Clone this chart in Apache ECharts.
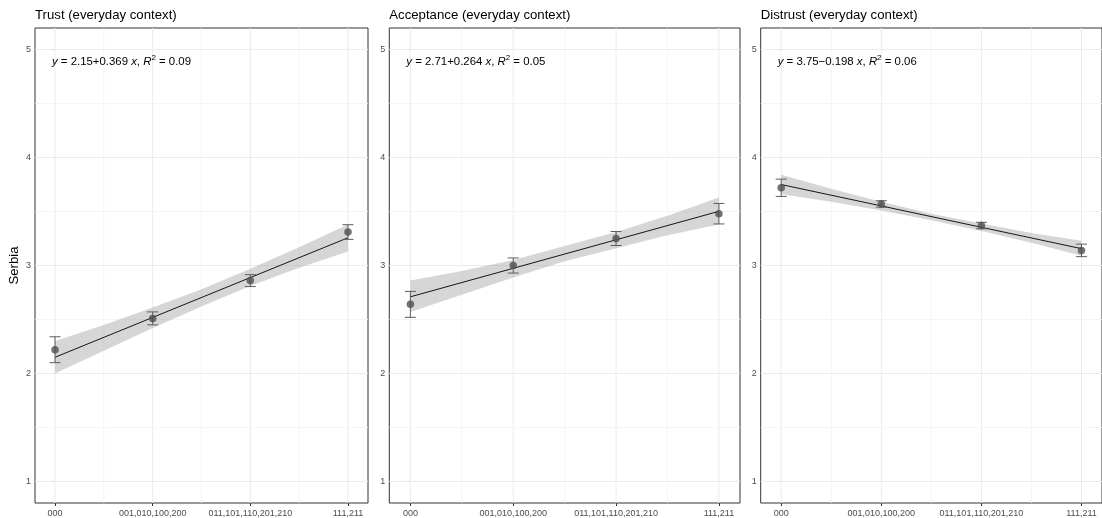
<!DOCTYPE html>
<html>
<head>
<meta charset="utf-8">
<script src="https://cdn.jsdelivr.net/npm/echarts@6/dist/echarts.min.js"></script>
<style>
  html, body { margin: 0; padding: 0; background: #ffffff; }
  #chart { width: 1102px; height: 518px; }
</style>
</head>
<body>
<div id="chart"></div>
<script>
// ---- data ----
const groupLabels = ['000', '001,010,100,200', '011,101,110,201,210', '111,211'];
const groupPos = [0, 1, 2, 3];
const panelTitles = ['Trust (everyday context)', 'Acceptance (everyday context)', 'Distrust (everyday context)'];
const yTicks = [1, 2, 3, 4, 5];
const yMinor = [1.5, 2.5, 3.5, 4.5];
const xMinor = [0.5, 1.5, 2.5];

// group means with standard errors
const trustMean = [2.22, 2.51, 2.86, 3.31];
const trustSE = [0.12, 0.06, 0.055, 0.068];
const acceptMean = [2.64, 3.00, 3.25, 3.48];
const acceptSE = [0.12, 0.07, 0.065, 0.095];
const distrustMean = [3.72, 3.57, 3.37, 3.14];
const distrustSE = [0.08, 0.03, 0.03, 0.058];

// linear fit per panel
const intercepts = [2.15, 2.71, 3.75];
const slopes = [0.369, 0.264, -0.198];
const rSquared = [0.09, 0.05, 0.06];

// confidence band of each fit
const bandX = [0, 0.5, 1, 1.5, 2, 2.5, 3];
const trustLower = [2.00, 2.21, 2.42, 2.62, 2.81, 2.98, 3.13];
const trustUpper = [2.30, 2.45, 2.61, 2.78, 2.97, 3.17, 3.38];
const acceptLower = [2.57, 2.73, 2.89, 3.04, 3.16, 3.28, 3.38];
const acceptUpper = [2.86, 2.95, 3.05, 3.18, 3.31, 3.46, 3.63];
const distrustLower = [3.66, 3.59, 3.51, 3.42, 3.32, 3.21, 3.09];
const distrustUpper = [3.84, 3.71, 3.59, 3.48, 3.39, 3.30, 3.23];

// ---- layout / style ----
const X_MIN = -0.205, X_MAX = 3.205;
const Y_MIN = 0.8, Y_MAX = 5.2;
const FONT = 'Arial, "Liberation Sans", sans-serif';
const gridBoxes = [
  { left: 35, width: 333 },
  { left: 389.3, width: 350.7 },
  { left: 760.7, width: 352 }
];
const panels = [
  { mean: trustMean, se: trustSE, lower: trustLower, upper: trustUpper },
  { mean: acceptMean, se: acceptSE, lower: acceptLower, upper: acceptUpper },
  { mean: distrustMean, se: distrustSE, lower: distrustLower, upper: distrustUpper }
];

function equationText(i) {
  const sign = slopes[i] >= 0 ? '+' : '\u2212';
  return '{i|y} = ' + intercepts[i].toFixed(2) + sign + Math.abs(slopes[i]).toFixed(3) +
    ' {i|x}, {i|R}{sup|2} = ' + rSquared[i].toFixed(2);
}

const grids = [], xAxes = [], yAxes = [], series = [], titles = [];

panels.forEach((p, k) => {
  grids.push({
    left: gridBoxes[k].left, width: gridBoxes[k].width, top: 28, height: 475,
    show: true, borderColor: '#333333', borderWidth: 1, backgroundColor: '#ffffff',
    containLabel: false
  });
  xAxes.push({
    type: 'value', gridIndex: k, min: X_MIN, max: X_MAX,
    axisLine: { show: false },
    axisTick: { show: true, customValues: groupPos, length: 3, lineStyle: { color: '#333333', width: 1 } },
    axisLabel: {
      customValues: groupPos, margin: 6, color: '#4d4d4d', fontSize: 9, fontFamily: FONT,
      formatter: v => groupLabels[Math.round(v)]
    },
    splitLine: { show: false }
  });
  yAxes.push({
    type: 'value', gridIndex: k, min: Y_MIN, max: Y_MAX,
    name: k === 0 ? 'Serbia' : '', nameLocation: 'middle', nameGap: 14, nameRotate: 90,
    nameTextStyle: { fontSize: 13.2, color: '#000000', fontFamily: FONT },
    axisLine: { show: false },
    axisTick: { show: true, customValues: yTicks, length: 3, lineStyle: { color: '#333333', width: 1 } },
    axisLabel: { customValues: yTicks, margin: 4, color: '#4d4d4d', fontSize: 9, fontFamily: FONT },
    splitLine: { show: false }
  });

  // panel grid lines: [value, orientation (0 = vertical, 1 = horizontal), major flag]
  const gridData = [];
  groupPos.forEach(v => gridData.push([v, 0, 1]));
  xMinor.forEach(v => gridData.push([v, 0, 0]));
  yTicks.forEach(v => gridData.push([v, 1, 1]));
  yMinor.forEach(v => gridData.push([v, 1, 0]));
  series.push({
    type: 'custom', xAxisIndex: k, yAxisIndex: k, z: 1, silent: true,
    data: gridData,
    encode: { x: -1, y: -1 },
    renderItem: (params, api) => {
      const v = api.value(0), horiz = api.value(1) === 1, major = api.value(2) === 1;
      const a = horiz ? api.coord([X_MIN, v]) : api.coord([v, Y_MIN]);
      const b = horiz ? api.coord([X_MAX, v]) : api.coord([v, Y_MAX]);
      return {
        type: 'line', shape: { x1: a[0], y1: a[1], x2: b[0], y2: b[1] },
        style: { stroke: major ? '#ebebeb' : '#f2f2f2', lineWidth: major ? 1 : 0.8 }
      };
    }
  });

  // confidence band
  series.push({
    type: 'custom', xAxisIndex: k, yAxisIndex: k, z: 2, silent: true,
    data: [[0]],
    encode: { x: -1, y: -1 },
    renderItem: (params, api) => {
      const pts = [];
      bandX.forEach((x, j) => pts.push(api.coord([x, p.upper[j]])));
      for (let j = bandX.length - 1; j >= 0; j--) pts.push(api.coord([bandX[j], p.lower[j]]));
      return { type: 'polygon', shape: { points: pts }, style: { fill: 'rgba(153,153,153,0.4)' } };
    }
  });

  // fitted line
  const x0 = groupPos[0], x1 = groupPos[groupPos.length - 1];
  series.push({
    type: 'line', xAxisIndex: k, yAxisIndex: k, z: 3, silent: true,
    symbol: 'none', animation: false,
    data: [[x0, intercepts[k] + slopes[k] * x0], [x1, intercepts[k] + slopes[k] * x1]],
    lineStyle: { color: '#000000', width: 0.9 }
  });

  // error bars (mean +/- se)
  series.push({
    type: 'custom', xAxisIndex: k, yAxisIndex: k, z: 4, silent: true,
    data: groupPos.map((x, j) => [x, p.mean[j], p.se[j]]),
    encode: { x: 0, y: 1 },
    renderItem: (params, api) => {
      const x = api.value(0), m = api.value(1), s = api.value(2);
      const top = api.coord([x, m + s]), bot = api.coord([x, m - s]);
      const hw = 5.5;
      const st = { stroke: '#5e5e5e', lineWidth: 1 };
      return {
        type: 'group', children: [
          { type: 'line', shape: { x1: top[0], y1: top[1], x2: bot[0], y2: bot[1] }, style: st },
          { type: 'line', shape: { x1: top[0] - hw, y1: top[1], x2: top[0] + hw, y2: top[1] }, style: st },
          { type: 'line', shape: { x1: bot[0] - hw, y1: bot[1], x2: bot[0] + hw, y2: bot[1] }, style: st }
        ]
      };
    }
  });

  // group means
  series.push({
    type: 'scatter', xAxisIndex: k, yAxisIndex: k, z: 5, silent: true,
    symbol: 'circle', symbolSize: 7.5,
    data: groupPos.map((x, j) => [x, p.mean[j]]),
    itemStyle: { color: '#4f4f4f' }
  });

  titles.push({
    text: panelTitles[k], left: gridBoxes[k].left, top: 9, padding: 0,
    textStyle: { fontSize: 13.2, fontWeight: 'normal', color: '#000000', fontFamily: FONT }
  });
  titles.push({
    text: equationText(k), left: gridBoxes[k].left + 17, top: 54, padding: 0,
    textStyle: {
      fontSize: 11.4, fontWeight: 'normal', color: '#000000', fontFamily: FONT,
      rich: {
        i: { fontStyle: 'italic', fontSize: 11.4, color: '#000000', fontFamily: FONT },
        sup: { fontSize: 8, color: '#000000', fontFamily: FONT, padding: [0, 0, 7, 0] }
      }
    }
  });
});

const chart = echarts.init(document.getElementById('chart'), null, { renderer: 'canvas' });
chart.setOption({
  animation: false,
  backgroundColor: '#ffffff',
  title: titles,
  grid: grids,
  xAxis: xAxes,
  yAxis: yAxes,
  series: series
});
</script>
</body>
</html>
